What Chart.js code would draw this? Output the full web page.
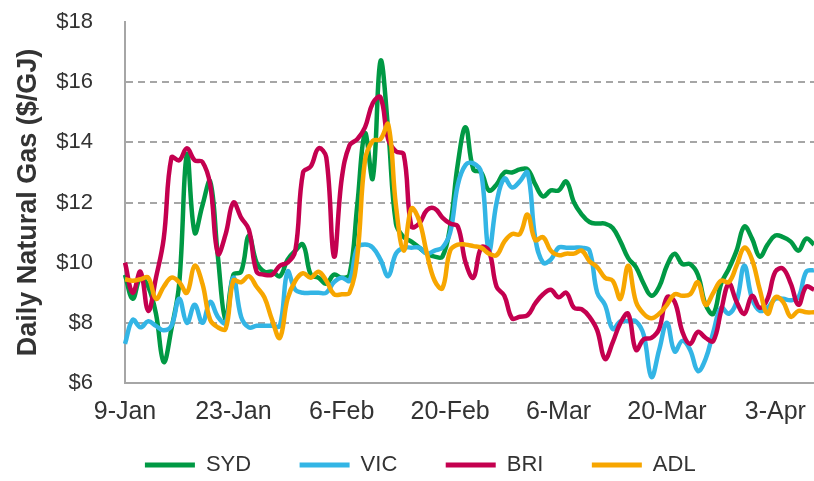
<!DOCTYPE html>
<html>
<head>
<meta charset="utf-8">
<script src="https://cdn.jsdelivr.net/npm/chart.js@4"></script>
<style>
  html, body { margin: 0; padding: 0; background: #fff; }
</style>
</head>
<body>
<canvas id="gasChart" width="814" height="481"></canvas>
<script>
// Daily prices from 9-Jan to 8-Apr, one value per day
const startDate = new Date(2017, 0, 9);
const monthNames = ['Jan', 'Feb', 'Mar', 'Apr', 'May', 'Jun', 'Jul', 'Aug', 'Sep', 'Oct', 'Nov', 'Dec'];
const days = [];
for (let i = 0; i < 90; i++) {
    const d = new Date(startDate.getFullYear(), startDate.getMonth(), startDate.getDate() + i);
    days.push(`${d.getDate()}-${monthNames[d.getMonth()]}`);
}
const tickLabels = ['9-Jan', '23-Jan', '6-Feb', '20-Feb', '6-Mar', '20-Mar', '3-Apr'];

const syd = [
    9.6, 8.8, 9.5, 9.2, 8.3, 6.7, 7.8, 9.3, 13.6, 11.0,
    11.9, 12.7, 10.2, 8.1, 9.6, 9.7, 10.9, 10.0, 9.7, 9.7,
    9.55, 10.1, 10.4, 10.6, 9.6, 9.5, 9.3, 9.6, 9.5, 9.6,
    11.9, 14.3, 12.8, 16.7, 14.4, 11.3, 10.85, 10.7, 10.5, 10.3,
    10.2, 10.2, 11.2, 13.3, 14.5, 13.1, 13.0, 12.4, 12.6, 13.0,
    13.0, 13.1, 13.1, 12.6, 12.2, 12.4, 12.4, 12.7, 12.0, 11.6,
    11.35, 11.3, 11.3, 11.15, 10.7, 10.15, 9.85, 9.3, 8.9, 9.2,
    9.9, 10.3, 9.95, 9.95, 9.6, 8.6, 8.3, 9.3, 9.8, 10.4,
    11.2, 10.8, 10.2, 10.6, 10.9, 10.85, 10.7, 10.4, 10.8, 10.6
];
const vic = [
    7.3, 8.1, 7.85, 8.05, 7.9, 7.75, 7.9, 8.8, 8.0, 8.6,
    8.0, 8.7, 8.2, 8.0, 9.5, 8.2, 7.85, 7.9, 7.9, 7.9,
    7.9, 9.7, 9.1, 9.0, 9.0, 9.0, 9.0, 9.35, 9.5, 9.4,
    10.5, 10.6, 10.5, 10.1, 9.55, 10.3, 10.5, 10.5, 10.5, 10.3,
    10.4, 10.5, 11.0, 12.6, 13.25, 13.3, 13.0, 10.4, 12.0, 12.8,
    12.5, 12.7, 13.0, 10.8, 10.0, 10.1, 10.5, 10.5, 10.5, 10.5,
    10.4, 9.0, 8.6, 7.8, 8.05, 8.05, 8.05, 7.6, 6.2, 7.1,
    8.0, 7.05, 7.4, 7.1, 6.4, 6.8, 7.7, 8.5, 8.3, 8.7,
    9.9, 8.8, 8.4, 8.5, 8.8, 8.8, 8.75, 8.85, 9.7, 9.75
];
const bri = [
    10.0, 9.0, 9.7, 8.4, 9.5, 10.8, 13.5, 13.4, 13.8, 13.4,
    13.35, 12.6, 10.3, 10.95, 12.0, 11.5, 11.1, 9.7, 9.6, 9.6,
    9.9, 10.0, 10.4, 13.0, 13.2, 13.8, 13.5, 10.2, 12.8, 13.9,
    14.1, 14.5, 15.3, 15.5, 14.1, 13.7, 13.6, 11.2, 11.3, 11.75,
    11.8, 11.5, 11.3, 11.2, 10.0, 9.5, 10.5, 10.4, 9.2, 8.9,
    8.15, 8.2, 8.25, 8.65, 8.95, 9.1, 8.85, 9.0, 8.5, 8.45,
    8.2, 7.75, 6.8, 7.35, 8.0, 8.3, 7.1, 7.45, 7.5, 7.8,
    8.85, 8.7, 7.7, 7.3, 7.7, 7.5, 7.4, 8.4, 9.3, 8.7,
    8.3, 8.9, 8.5, 8.8, 9.7, 9.8, 9.3, 8.6, 9.2, 9.1
];
const adl = [
    9.45, 9.4, 9.45, 9.5, 8.8, 9.2, 9.5, 9.35, 9.0, 9.9,
    9.3, 8.1, 7.85, 7.8, 9.4, 9.35, 9.55, 9.2, 8.85, 8.1,
    7.5, 8.8, 9.4, 9.65, 9.5, 9.7, 9.4, 8.95, 8.95, 9.0,
    10.2, 13.4, 14.05, 14.1, 14.6, 11.9, 10.4, 11.8, 11.4, 10.3,
    9.4, 9.15, 10.4, 10.6, 10.6, 10.55, 10.5, 10.3, 10.25, 10.7,
    10.95, 10.95, 11.6, 10.75, 10.85, 10.4, 10.25, 10.3, 10.3, 10.4,
    10.05, 9.85, 9.5, 9.4, 8.8, 9.9, 8.7, 8.3, 8.15, 8.3,
    8.6, 8.95, 8.9, 8.95, 9.35, 8.6, 9.0, 9.4, 9.35, 9.9,
    10.5, 10.1, 9.1, 8.3, 8.85, 8.7, 8.2, 8.4, 8.35, 8.35
];

Chart.defaults.font.family = "'Liberation Sans', Arial, sans-serif";
Chart.defaults.color = '#333333';

const ctx = document.getElementById('gasChart').getContext('2d');

new Chart(ctx, {
    type: 'line',
    data: {
        labels: days,
        datasets: [
            { label: 'SYD', data: syd, borderColor: '#009944', backgroundColor: '#009944', order: 4 },
            { label: 'VIC', data: vic, borderColor: '#33B5E5', backgroundColor: '#33B5E5', order: 3 },
            { label: 'BRI', data: bri, borderColor: '#C4004F', backgroundColor: '#C4004F', order: 2 },
            { label: 'ADL', data: adl, borderColor: '#F7A600', backgroundColor: '#F7A600', order: 1 }
        ]
    },
    options: {
        responsive: false,
        animation: false,
        layout: { padding: { left: 51, top: 22, right: 0, bottom: -5 } },
        elements: {
            point: { radius: 0 },
            line: { borderWidth: 4.5, tension: 0.4 }
        },
        scales: {
            x: {
                grid: { display: false, drawTicks: true, tickLength: 14 },
                border: { color: '#A6A6A6', width: 2 },
                ticks: {
                    autoSkip: false,
                    maxRotation: 0,
                    minRotation: 0,
                    padding: 0,
                    font: { size: 25 },
                    callback: function(value) {
                        const lab = this.getLabelForValue(value);
                        return tickLabels.includes(lab) ? lab : '';
                    }
                },
                afterFit: (scale) => { scale.height = 47; }
            },
            y: {
                min: 6,
                max: 18,
                ticks: {
                    stepSize: 2,
                    padding: 2,
                    font: { size: 22 },
                    callback: (v) => '$' + v
                },
                grid: {
                    drawTicks: true,
                    tickLength: 30,
                    tickColor: 'rgba(0,0,0,0)',
                    lineWidth: 2,
                    color: (c) => (c.tick && (c.tick.value === 18 || c.tick.value === 6)) ? 'rgba(0,0,0,0)' : '#A6A6A6'
                },
                border: { color: '#A6A6A6', width: 2, dash: [7, 5] },
                title: {
                    display: true,
                    text: 'Daily Natural Gas ($/GJ)',
                    font: { size: 27, weight: 'bold' },
                    padding: { top: -39, bottom: 0 }
                },
                afterFit: (scale) => { scale.width = 74; }
            }
        },
        plugins: {
            legend: {
                position: 'bottom',
                labels: {
                    usePointStyle: true,
                    pointStyle: 'line',
                    pointStyleWidth: 50,
                    padding: 24,
                    font: { size: 22 },
                    sort: (a, b) => a.datasetIndex - b.datasetIndex,
                    // thick line swatches, trailing gap so each entry takes an equal-ish slot
                    generateLabels: (chart) => Chart.defaults.plugins.legend.labels.generateLabels(chart)
                        .map(item => Object.assign(item, {
                            text: item.text + '    ',
                            lineWidth: 5,
                            strokeStyle: chart.data.datasets[item.datasetIndex].borderColor
                        }))
                }
            },
            tooltip: { enabled: false }
        }
    }
});
</script>
</body>
</html>
